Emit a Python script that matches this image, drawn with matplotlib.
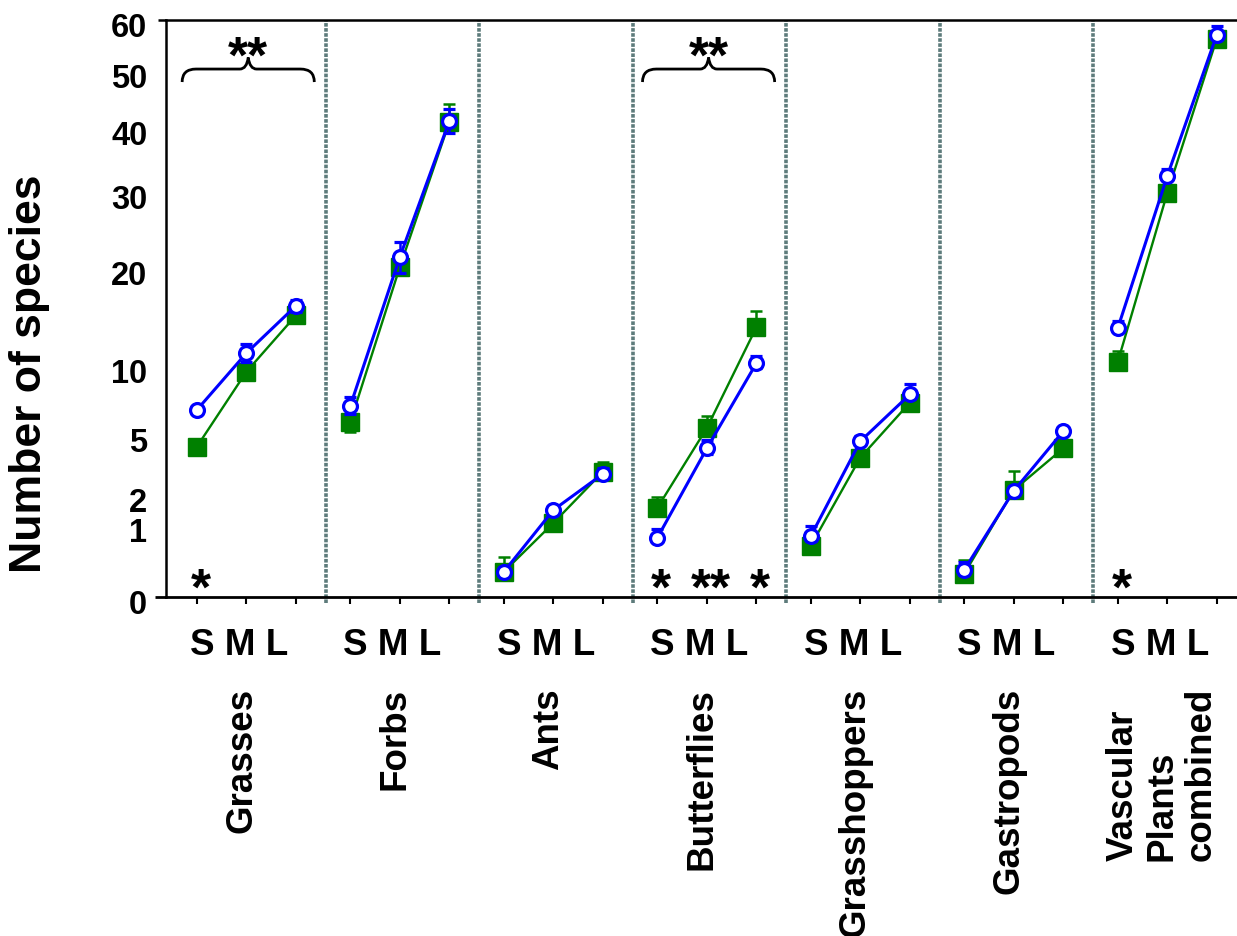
import numpy as np
import matplotlib
matplotlib.use("Agg")
import matplotlib.pyplot as plt
from matplotlib.path import Path
from matplotlib.patches import PathPatch
from matplotlib.transforms import ScaledTranslation

plt.rcParams['font.family'] = ['Liberation Sans', 'DejaVu Sans']
plt.rcParams['font.weight'] = 'bold'

# data (S, M, L per group)
groups = ['Grasses', 'Forbs', 'Ants', 'Butterflies', 'Grasshoppers',
          'Gastropods', 'Vascular\nPlants\ncombined']
sizes = ['S', 'M', 'L']

green_mean = [[4.3, 9.5, 14.7], [5.8, 20.1, 41.0], [0.13, 1.07, 3.0],
              [1.54, 5.4, 13.5], [0.52, 3.7, 7.1], [0.11, 2.2, 4.2],
              [10.3, 29.8, 56.2]]
green_up = [[0.2, 0.3, 0.4], [0.3, 0.8, 3.0], [0.19, 0.15, 0.5],
            [0.4, 0.8, 1.7], [0.1, 0.3, 0.4], [0.16, 0.85, 0.3],
            [1.0, 0.8, 1.0]]
green_low = [[0, 0, 0], [0.65, 0, 0], [0, 0, 0], [0, 0, 0], [0, 0, 0],
             [0, 0, 0], [0, 0, 0]]
blue_mean = [[6.6, 11.1, 15.7], [6.9, 21.3, 41.2], [0.13, 1.47, 2.9],
             [0.69, 4.2, 10.2], [0.73, 4.6, 7.7], [0.15, 2.17, 5.2],
             [13.4, 32.3, 57.0]]
blue_up = [[0.3, 0.8, 0.6], [0.6, 1.9, 2.0], [0.05, 0.15, 0.3],
           [0.22, 0.5, 0.6], [0.26, 0.3, 0.8], [0.1, 0.2, 0.2],
           [0.7, 1.1, 1.8]]
blue_low = [[0.3, 0.8, 0.6], [0.6, 1.9, 2.0], [0.03, 0.1, 0.2],
            [0.1, 0.3, 0.4], [0.1, 0.2, 0.3], [0.05, 0.1, 0.1],
            [0.4, 0.6, 0.8]]

yticks = [0, 1, 2, 5, 10, 20, 30, 40, 50, 60]

# significance marks: (group index, position index, text)
stars_low = [(0, 0, '*'), (3, 0, '*'), (3, 1, '**'), (3, 2, '*'), (6, 0, '*')]
brace_groups = [0, 3]

GREEN = '#008000'
BLUE = '#0000ff'
SEP = '#5d7b7b'
step = 3.1
p = 0.51

fig = plt.figure(figsize=(12.37, 9.37), dpi=100)
ax = fig.add_axes([166 / 1237, (937 - 598) / 937, 1 - 166 / 1237, (598 - 21) / 937])
ax.set_yscale('function', functions=(lambda v: np.power(np.clip(v, 0, None), p),
                                     lambda v: np.power(np.clip(v, 0, None), 1 / p)))
ax.set_ylim(0, 60)
ax.set_xlim(-0.626, 21.01)

xpos = []
for i in range(len(groups)):
    x = step * i + np.arange(3)
    xpos.extend(x)
    gm = np.array(green_mean[i])
    bm = np.array(blue_mean[i])
    ax.errorbar(x, gm, yerr=[green_low[i], green_up[i]], fmt='-s', color=GREEN,
                ms=13, lw=1.7, elinewidth=1.8, capsize=4, capthick=1.8, zorder=3,
                clip_on=False)
    ax.errorbar(x, bm, yerr=[blue_low[i], blue_up[i]], fmt='-o', color=BLUE,
                mfc='white', mec=BLUE, ms=10, mew=2.3, lw=2.2, elinewidth=1.8,
                capsize=4, capthick=1.8, zorder=4, clip_on=False)
    if i < len(groups) - 1:
        ax.axvline(step * i + 2.6, ymin=-0.011, ymax=1, color=SEP, lw=2.6,
                   linestyle=(0, (1.0, 0.4)), clip_on=False, zorder=2)

xt = ax.get_xaxis_transform()
for i, g in enumerate(groups):
    m = step * i + 1
    ax.text(m - 0.15, -0.0815, ' '.join(sizes), transform=xt, ha='center',
            va='center', fontsize=26.5, fontweight='bold')
    ax.text(m - 0.1, -0.156, g, transform=xt, ha='center', va='top', rotation=90,
            fontsize=26.5, fontweight='bold', multialignment='left', linespacing=1.15)

# braces with ** above
for i in brace_groups:
    x0 = step * i - 0.3
    x1 = step * i + 2.37
    xm = (x0 + x1) / 2
    ye, yb, yp = 0.8925, 0.915, 0.935
    r, r2 = 0.28, 0.17
    verts = [(x0, ye), (x0, yb), (x0 + r, yb), (xm - r2, yb), (xm - 0.03, yb),
             (xm, yp), (xm + 0.03, yb), (xm + r2, yb), (x1 - r, yb), (x1, yb), (x1, ye)]
    codes = [Path.MOVETO, Path.CURVE3, Path.CURVE3, Path.LINETO, Path.CURVE3,
             Path.CURVE3, Path.CURVE3, Path.CURVE3, Path.LINETO, Path.CURVE3, Path.CURVE3]
    ax.add_patch(PathPatch(Path(verts, codes), transform=xt, fill=False, lw=2.0,
                           ec='black', clip_on=False))
    ax.text(xm, 0.911, '**', transform=xt, ha='center', va='baseline',
            fontsize=37, fontweight='bold')

for i, j, s in stars_low:
    ax.text(step * i + j + 0.08, -0.012, s, transform=xt, ha='center', va='baseline',
            fontsize=37, fontweight='bold')

# axes styling
for side in ['left', 'top', 'bottom']:
    ax.spines[side].set_linewidth(1.8)
ax.spines['bottom'].set_linewidth(2.0)
ax.spines['right'].set_visible(False)
ax.plot([-0.0103, 0], [0, 0], transform=ax.transAxes, color='black', lw=2.0,
        clip_on=False, solid_capstyle='butt')
ax.plot([-0.0075, 0], [1, 1], transform=ax.transAxes, color='black', lw=1.8,
        clip_on=False, solid_capstyle='butt')

ax.set_xticks(xpos)
ax.set_xticklabels([])
ax.tick_params(axis='x', length=5, width=1.5, direction='out', color='black')
ax.tick_params(axis='y', length=0, pad=13.5)
ax.set_yticks(yticks)
ax.set_yticklabels([str(t) for t in yticks], fontsize=23.5, fontweight='bold')
for tk in ax.yaxis.get_major_ticks():
    tk.label1.set_transform(tk.label1.get_transform() +
                            ScaledTranslation(0, -4 / 100, fig.dpi_scale_trans))

fig.text(30 / 1237, 1 - 374 / 937, 'Number of species', rotation=90, ha='center',
         va='center', fontsize=32, fontweight='bold')

fig.savefig('out.png', dpi=100)
